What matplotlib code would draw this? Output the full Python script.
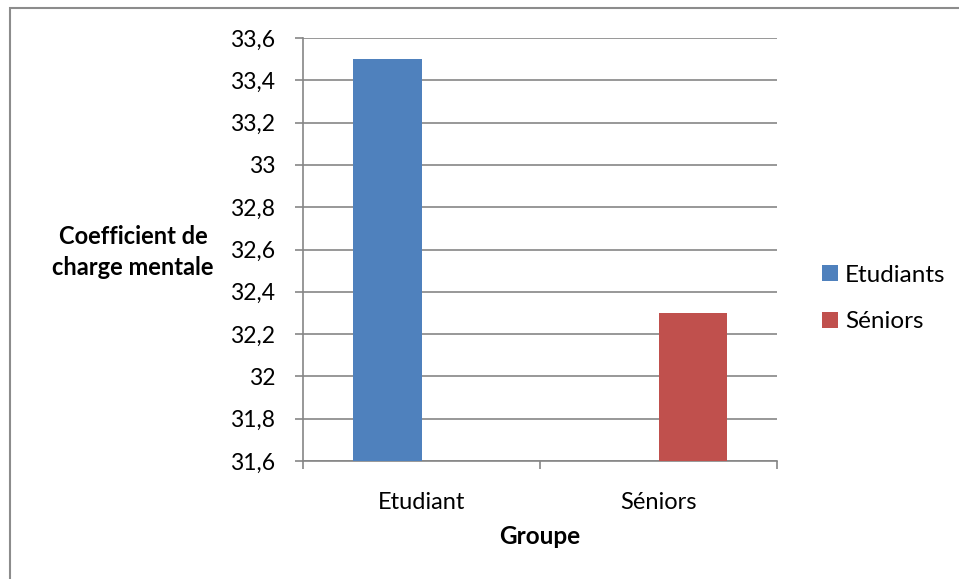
import numpy as np
import matplotlib
matplotlib.use("Agg")
import matplotlib.pyplot as plt
from matplotlib.patches import Rectangle

# data
groups = ["Etudiant", "Séniors"]
series_names = ["Etudiants", "Séniors"]
etudiants = [33.5, np.nan]
seniors = [np.nan, 32.3]
y_ticks = [31.6, 31.8, 32.0, 32.2, 32.4, 32.6, 32.8, 33.0, 33.2, 33.4, 33.6]
y_labels = ["31,6", "31,8", "32", "32,2", "32,4", "32,6", "32,8", "33", "33,2", "33,4", "33,6"]

BLUE = "#4F81BD"
RED = "#C0504D"
GRID = "#868686"

plt.rcParams["font.family"] = ["Lato", "DejaVu Sans"]

fig = plt.figure(figsize=(9.59, 5.79), dpi=100)
ax = fig.add_axes([303 / 959, 1 - 461 / 579, 474 / 959, 423 / 579])

x = np.arange(len(groups))
width = 0.287
ax.bar(x - width / 2, etudiants, width, color=BLUE, label=series_names[0], zorder=3)
ax.bar(x + width / 2, seniors, width, color=RED, label=series_names[1], zorder=3)

ax.set_ylim(y_ticks[0], y_ticks[-1])
ax.set_xlim(-0.5, len(groups) - 0.5)
ax.set_yticks(y_ticks)
ax.set_yticklabels(y_labels, fontsize=16.5)
ax.yaxis.grid(True, color=GRID, linewidth=1.2, zorder=0)

# category labels in the middle, ticks at the boundaries
ax.set_xticks(np.arange(len(groups) + 1) - 0.5)
ax.set_xticklabels([])
ax.set_xticks(x, minor=True)
ax.set_xticklabels(groups, minor=True, fontsize=17)
ax.tick_params(axis="x", which="minor", length=0, pad=22)
ax.tick_params(axis="x", which="major", length=6, color=GRID, width=1.2)
ax.tick_params(axis="y", length=6, color=GRID, width=1.2, pad=14)

for side in ["top", "right"]:
    ax.spines[side].set_visible(False)
for side in ["left", "bottom"]:
    ax.spines[side].set_color(GRID)
    ax.spines[side].set_linewidth(1.2)

fig.text(133 / 959, 1 - 252 / 579, "Coefficient de\ncharge mentale", ha="center", va="center",
         fontsize=17, fontweight="bold", linespacing=1.45)
fig.text(540 / 959, 1 - 537 / 579, "Groupe", ha="center", va="center",
         fontsize=17.5, fontweight="bold")

fig.legend(loc="upper left", bbox_to_anchor=(812 / 959, 1 - 255 / 579), frameon=False,
           fontsize=17.5, handlelength=0.65, handleheight=0.65, handletextpad=0.3,
           labelspacing=1.05, borderaxespad=0)

# chart border (only top and left visible in the crop)
fig.patches.append(Rectangle((9.5 / 959, -0.1), 1.2, 1.1 - 8.5 / 579, transform=fig.transFigure,
                             fill=False, edgecolor="#8C8C8C", linewidth=1.5))

fig.savefig("out.png", dpi=100)
